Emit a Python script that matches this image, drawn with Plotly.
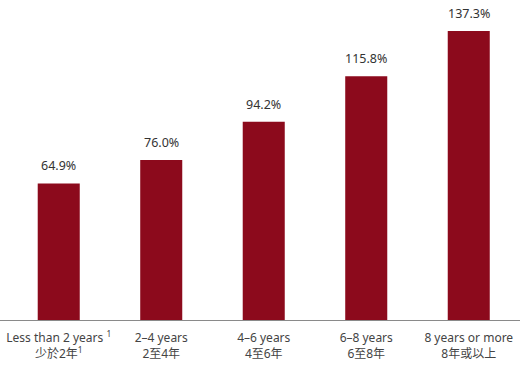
import plotly.graph_objects as go

categories = [
    "Less than 2 years <sup>1</sup><br>少於2年<sup>1</sup>",
    "2–4 years<br>2至4年",
    "4–6 years<br>4至6年",
    "6–8 years<br>6至8年",
    "8 years or more<br>8年或以上",
]
values = [64.9, 76.0, 94.2, 115.8, 137.3]
value_labels = ["64.9%", "76.0%", "94.2%", "115.8%", "137.3%"]

fig = go.Figure(go.Bar(
    x=categories,
    y=values,
    marker=dict(color="#8C0A1C", line=dict(width=0)),
    cliponaxis=False,
    hoverinfo="skip",
))

for c, v, t in zip(categories, values, value_labels):
    fig.add_annotation(
        x=c, y=v, text=t, showarrow=False,
        yanchor="bottom", yshift=7,
        font=dict(size=12.5, color="#333333"),
    )

fig.update_layout(
    width=520, height=374,
    margin=dict(l=0, r=0, t=10, b=54),
    paper_bgcolor="white", plot_bgcolor="white",
    bargap=0.59,
    font=dict(family="Noto Sans, Noto Sans CJK TC, sans-serif", size=12, color="#444444"),
    showlegend=False,
    xaxis=dict(
        range=[-0.573, 4.5],
        automargin=False,
        showline=True, linecolor="#8a8a8a", linewidth=1,
        ticks="", showgrid=False,
        ticklabelstandoff=7,
        tickfont=dict(size=12, color="#444444"),
    ),
    yaxis=dict(
        range=[0, 147.3],
        automargin=False,
        visible=False, showgrid=False, zeroline=False,
    ),
)

fig.write_html(
    "out.html",
    config={"displayModeBar": False},
    post_script="document.body.style.margin='0';document.body.style.overflow='hidden';",
)
